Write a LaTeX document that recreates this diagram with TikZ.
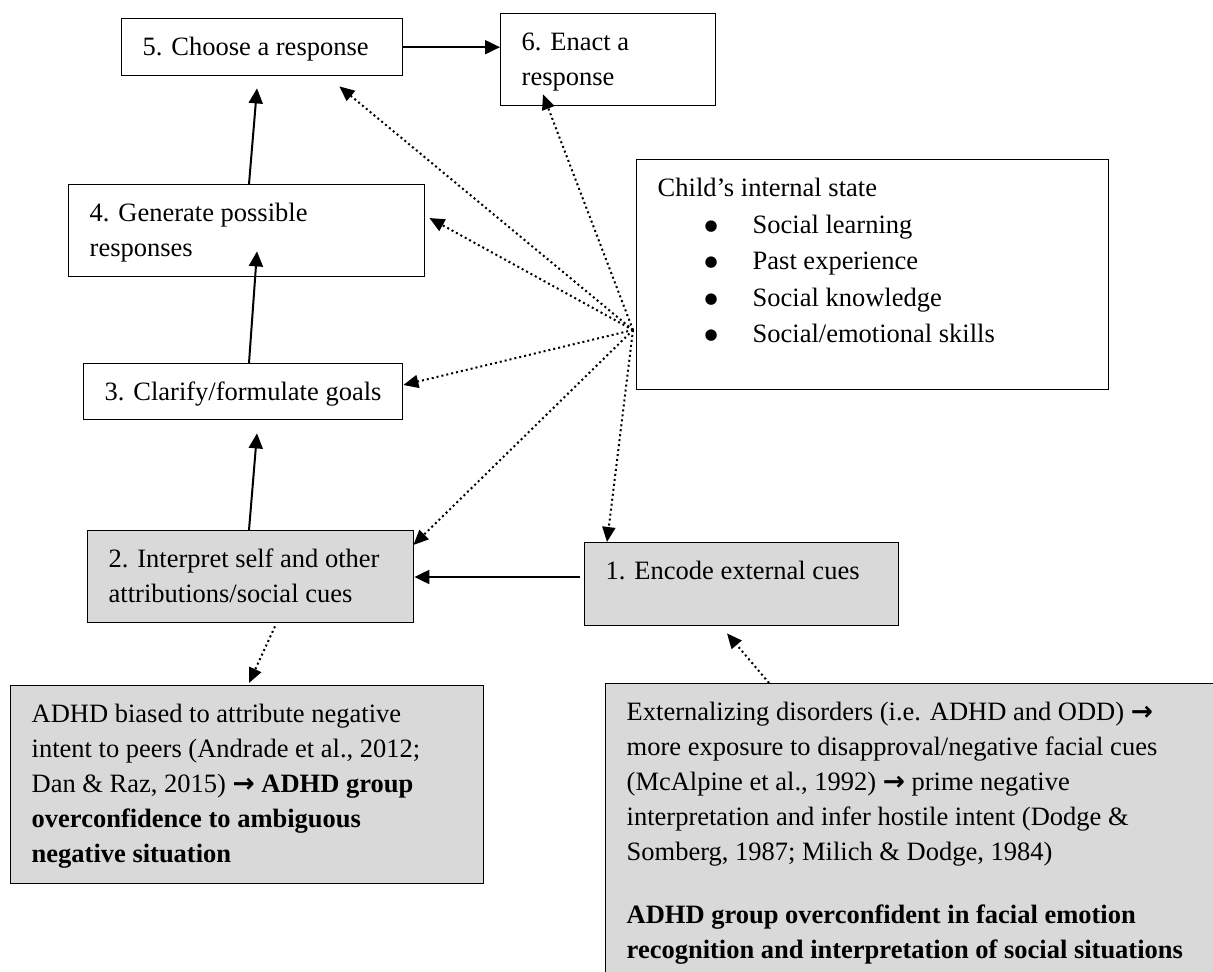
\documentclass[tikz,border=0pt]{standalone}
\usepackage{fontspec}
\setmainfont{Liberation Serif}
\newfontfamily\arrowfont{DejaVu Sans}
\usetikzlibrary{arrows.meta,calc}
\definecolor{boxgray}{RGB}{217,217,217}
\newcommand\boxtext[3]{\begin{minipage}[t][#2][t]{#1}\raggedright\strut#3\end{minipage}}
\newcommand\rar{{\arrowfont\bfseries →}}
\newcommand\bul{\hspace*{23.5pt}\makebox[24pt][l]{\raisebox{1.5pt}{\arrowfont\fontsize{7.5}{7.5}\selectfont ●}}}
\tikzset{
  boxw/.style={draw=black, line width=0.7pt, fill=white, inner xsep=10.5pt, inner ysep=6.25pt, anchor=north west},
  boxg/.style={boxw, fill=boxgray},
  solidarr/.style={line width=1pt, -{Triangle[length=7.5pt,width=7pt]}},
  dotarr/.style={line width=1pt, dash pattern=on 1pt off 1.5pt, -{Triangle[length=7.5pt,width=6.5pt]}},
}
\begin{document}
\begin{tikzpicture}[x=0.5pt,y=-0.5pt, every node/.style={font=\fontsize{13.25}{17.5}\selectfont}]
\useasboundingbox (0,0) rectangle (1213,972);
\fill[white] (0,0) rectangle (1213,972);

\node[boxw] (b5) at (121,18) {\boxtext{119.5pt}{16pt}{5. Choose a response}};
\node[boxw] (b6) at (500,13) {\boxtext{86.5pt}{33.5pt}{6. Enact a\\response}};
\node[boxw] (b4) at (68,184) {\boxtext{157pt}{33.5pt}{4. Generate possible\\responses}};
\node[boxw] (child) at (636,159) {\boxtext{215pt}{102.5pt}{\fontsize{13.25}{18.25}\selectfont Child’s internal state\\
\bul Social learning\\
\bul Past experience\\
\bul Social knowledge\\
\bul Social/emotional skills}};
\node[boxw] (b3) at (83,363) {\boxtext{138.5pt}{15.5pt}{3. Clarify/formulate goals}};
\node[boxg] (b2) at (87,530) {\boxtext{142pt}{33.5pt}{2. Interpret self and other\\attributions/social cues}};
\node[boxg] (b1) at (584,542) {\boxtext{136pt}{29pt}{1. Encode external cues}};
\node[boxg] (adhd) at (10,685) {\boxtext{215.5pt}{86.5pt}{ADHD biased to attribute negative\\intent to peers (Andrade et al., 2012;\\Dan \& Raz, 2015) \rar\ {\bfseries ADHD group\\overconfidence to ambiguous\\negative situation}}};
\node[boxg] (ext) at (605,683) {\boxtext{289pt}{141pt}{Externalizing disorders (i.e. ADHD and ODD) \rar\\more exposure to disapproval/negative facial cues\\(McAlpine et al., 1992) \rar\ prime negative\\interpretation and infer hostile intent (Dodge \&\\Somberg, 1987; Milich \& Dodge, 1984)\\[14pt]{\bfseries ADHD group overconfident in facial emotion\\recognition and interpretation of social situations}}};

% solid arrows
\draw[solidarr] (b5.east) -- (b5.east -| b6.west);
\draw[solidarr] ($(b4.north west)+(181,0)$) -- ($(b5.south west)+(136,12)$);
\draw[solidarr] ($(b3.north west)+(166,0)$) -- ($(b4.south west)+(189,-26)$);
\draw[solidarr] ($(b2.north west)+(162,0)$) -- ($(b3.south west)+(174,13)$);
\coordinate (c12) at ($(b1.north west)+(-4,35)$);
\draw[solidarr] (c12) -- (c12 -| b2.east);

% dotted arrows from the child's internal state
\coordinate (P) at ($(child.north west)+(-3,171)$);
\draw[dotarr] (P) -- ($(b5.south east)+(-64,10)$);
\draw[dotarr] (P) -- ($(b6.south west)+(43,-12)$);
\draw[dotarr] (P) -- ($(b4.north east)+(4,34)$);
\draw[dotarr] (P) -- ($(b3.north east)+(0,22)$);
\draw[dotarr] (P) -- ($(b2.north east)+(-1,15)$);
\draw[dotarr] (P) -- ($(b1.north west)+(23,0)$);

% dotted arrows from the bottom boxes
\draw[dotarr] ($(ext.north west)+(164,0)$) -- ($(b1.south west)+(143,7)$);
\draw[dotarr] ($(b2.south west)+(188,3)$) -- ($(adhd.north west)+(239,-2)$);
\end{tikzpicture}
\end{document}
